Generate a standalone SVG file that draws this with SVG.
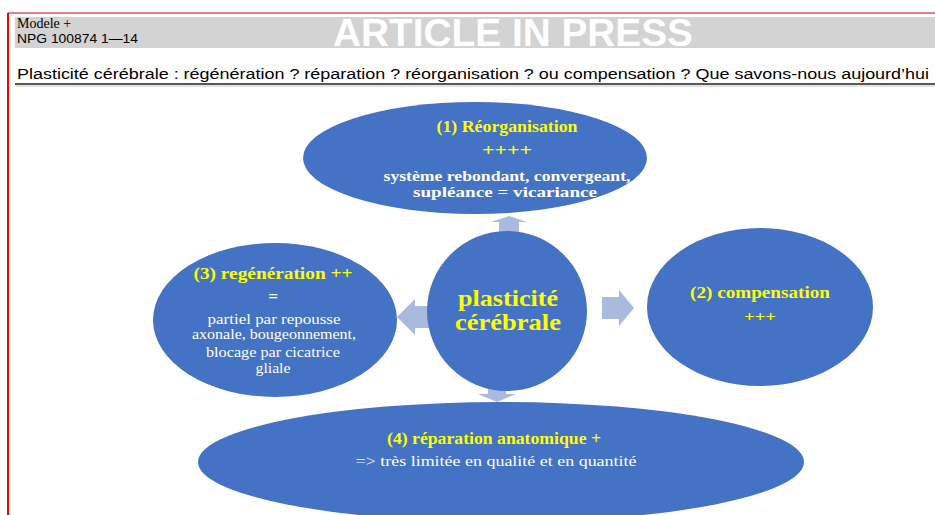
<svg xmlns="http://www.w3.org/2000/svg" width="935" height="515" viewBox="0 0 935 515">
<style>
.node{fill:#4472C4}
.arr{fill:#AAB9DE}
.y{fill:#FFFF00;font-family:"Liberation Serif",serif;font-weight:bold;text-anchor:middle}
.w{fill:#FFFFFF;font-family:"Liberation Serif",serif;text-anchor:middle}
.wb{fill:#FFFFFF;font-family:"Liberation Serif",serif;font-weight:bold;text-anchor:middle}
</style>
<rect x="0" y="0" width="935" height="515" fill="#FFFFFF"/>
<g id="header">
<line x1="8" y1="13" x2="935" y2="13" stroke="#E00000" stroke-width="1.2"/>
<line x1="8" y1="13" x2="8" y2="515" stroke="#FF0000" stroke-width="2"/>
<rect x="15" y="17" width="920" height="31" fill="#D3D3D3"/>
<text x="17" y="28" font-family="'Liberation Serif',serif" font-size="14" fill="#000">Modele +</text>
<text x="17" y="43" font-family="'Liberation Sans',sans-serif" font-size="13" fill="#000" textLength="121" lengthAdjust="spacingAndGlyphs">NPG 100874 1—14</text>
<text x="513" y="46" font-family="'Liberation Sans',sans-serif" font-size="38" font-weight="bold" fill="#FFFFFF" text-anchor="middle" textLength="360" lengthAdjust="spacingAndGlyphs">ARTICLE IN PRESS</text>
<text x="17" y="79" font-family="'Liberation Sans',sans-serif" font-size="15.5" fill="#000" textLength="912" lengthAdjust="spacingAndGlyphs">Plasticité cérébrale : régénération ? réparation ? réorganisation ? ou compensation ? Que savons-nous aujourd’hui</text>
<line x1="15" y1="84" x2="935" y2="84" stroke="#222" stroke-width="1.6"/>
<line x1="15" y1="86" x2="935" y2="86" stroke="#BBB" stroke-width="0.8"/>
</g>
<g id="connectors">
<polygon class="arr" points="509,216 527,222 519,222 519,236 499,236 499,222 491,222"/>
<polygon class="arr" points="397,317 415,299 415,306 433,306 433,328 415,328 415,335"/>
<polygon class="arr" points="634,308 619,290 619,297 602,297 602,319 619,319 619,326"/>
<polygon class="arr" points="497,402 478,394 488,394 488,384 506,384 506,394 516,394"/>
</g>
<g id="n1">
<ellipse class="node" cx="475" cy="158" rx="172" ry="56"/>
<text class="y" x="507" y="132" font-size="16" textLength="141" lengthAdjust="spacingAndGlyphs">(1) Réorganisation</text>
<text class="y" x="507" y="156" font-size="17" font-weight="normal" textLength="50" lengthAdjust="spacingAndGlyphs">++++</text>
<text class="wb" x="507" y="181" font-size="15" textLength="247" lengthAdjust="spacingAndGlyphs">système rebondant, convergeant,</text>
<text class="wb" x="505" y="197" font-size="15" textLength="184" lengthAdjust="spacingAndGlyphs">supléance = vicariance</text>
</g>
<g id="n0">
<circle class="node" cx="507" cy="311" r="80"/>
<text class="y" x="508" y="306" font-size="23" textLength="100" lengthAdjust="spacingAndGlyphs">plasticité</text>
<text class="y" x="508" y="330" font-size="23" textLength="106" lengthAdjust="spacingAndGlyphs">cérébrale</text>
</g>
<g id="n3">
<ellipse class="node" cx="275" cy="320" rx="122" ry="77"/>
<text class="y" x="273" y="279" font-size="16" textLength="159" lengthAdjust="spacingAndGlyphs">(3) regénération ++</text>
<text class="wb" x="273" y="302" font-size="17">=</text>
<text class="w" x="274" y="324" font-size="14" textLength="133" lengthAdjust="spacingAndGlyphs">partiel par repousse</text>
<text class="w" x="274" y="339" font-size="14" textLength="164" lengthAdjust="spacingAndGlyphs">axonale, bougeonnement,</text>
<text class="w" x="273" y="357" font-size="14" textLength="134" lengthAdjust="spacingAndGlyphs">blocage par cicatrice</text>
<text class="w" x="273" y="373" font-size="14" textLength="35" lengthAdjust="spacingAndGlyphs">gliale</text>
</g>
<g id="n2">
<ellipse class="node" cx="760" cy="307" rx="113" ry="79"/>
<text class="y" x="760" y="298" font-size="16" textLength="140" lengthAdjust="spacingAndGlyphs">(2) compensation</text>
<text class="y" x="760" y="321" font-size="15" font-weight="normal" textLength="32" lengthAdjust="spacingAndGlyphs">+++</text>
</g>
<g id="n4">
<ellipse class="node" cx="501" cy="462" rx="303" ry="60"/>
<text class="y" x="494" y="444" font-size="16" textLength="214" lengthAdjust="spacingAndGlyphs">(4) réparation anatomique +</text>
<text class="w" x="496" y="466" font-size="15" textLength="281" lengthAdjust="spacingAndGlyphs">=&gt; très limitée en qualité et en quantité</text>
</g>
</svg>
